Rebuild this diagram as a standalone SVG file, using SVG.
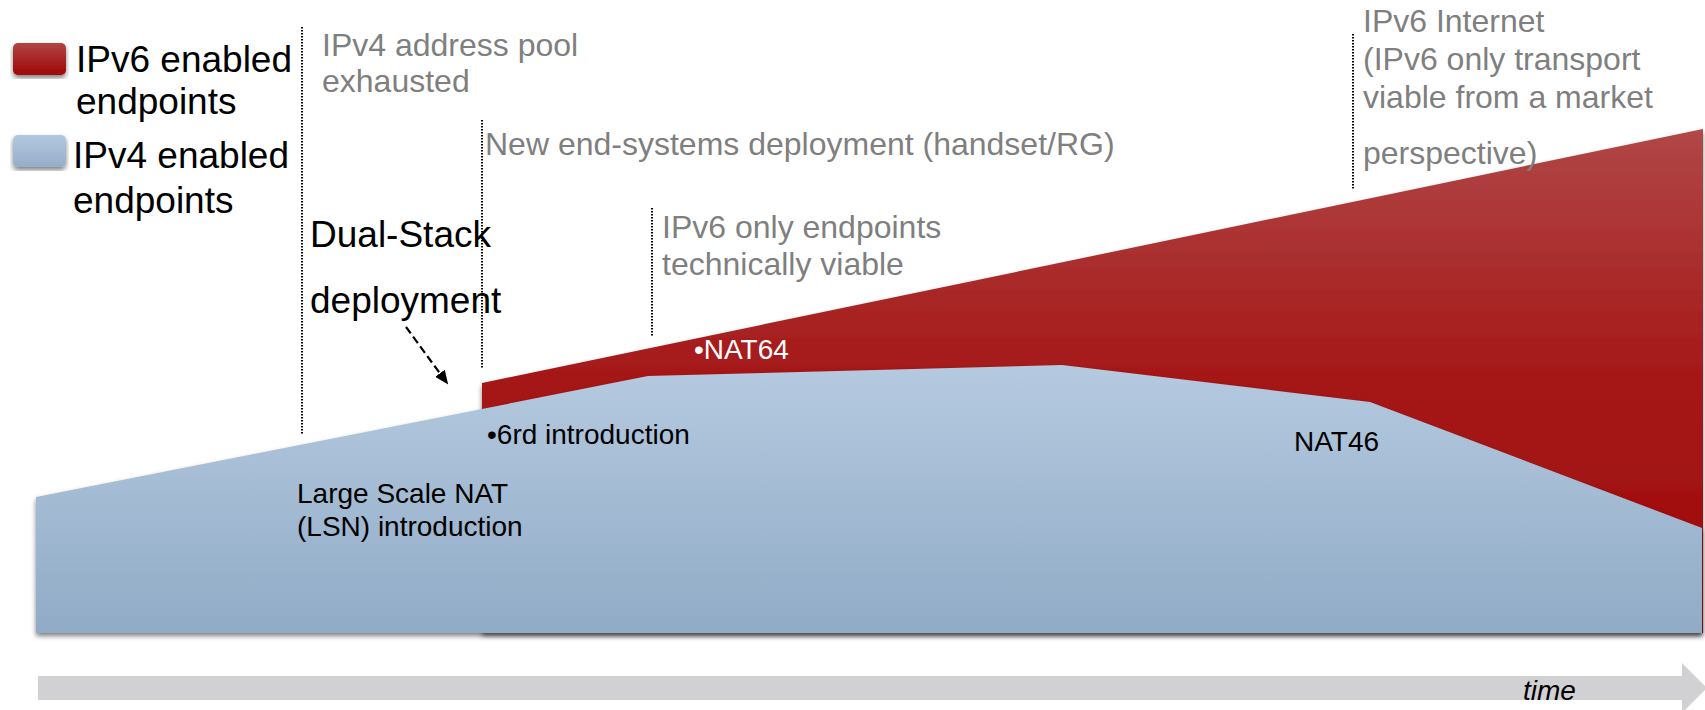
<svg xmlns="http://www.w3.org/2000/svg" width="1705" height="710" viewBox="0 0 1705 710">
<style>
.t{font-family:"Liberation Sans",Arial,sans-serif}
.gray{fill:#7f7f7f;font-size:32px}
.blk{fill:#000;font-size:37px}
.sm{fill:#000;font-size:28px}
.dot{stroke:#000;stroke-width:2;stroke-dasharray:1.6 1.4;fill:none}
</style>
<defs>
<linearGradient id="gRed" x1="0" y1="0" x2="0" y2="1" gradientUnits="objectBoundingBox">
<stop offset="0" stop-color="#b14747"/>
<stop offset="0.5" stop-color="#a51717"/>
<stop offset="1" stop-color="#a00a0a"/>
</linearGradient>
<linearGradient id="gBlue" x1="0" y1="0" x2="0" y2="1">
<stop offset="0" stop-color="#b5cae0"/>
<stop offset="1" stop-color="#91abc6"/>
</linearGradient>
<linearGradient id="gRedL" x1="0" y1="0" x2="0" y2="1">
<stop offset="0" stop-color="#b04545"/>
<stop offset="1" stop-color="#9f0606"/>
</linearGradient>
<linearGradient id="gBlueL" x1="0" y1="0" x2="0" y2="1">
<stop offset="0" stop-color="#b3c8de"/>
<stop offset="1" stop-color="#95aec9"/>
</linearGradient>
<filter id="sh" x="-5%" y="-5%" width="110%" height="115%">
<feDropShadow dx="0" dy="3" stdDeviation="2.5" flood-color="#000" flood-opacity="0.5"/>
</filter>
<marker id="ah" markerWidth="14" markerHeight="14" refX="12" refY="6" orient="auto" markerUnits="userSpaceOnUse" viewBox="0 0 14 12">
<path d="M0,0 L14,6 L0,12 Z" fill="#000"/>
</marker>
</defs>

<g id="time-axis">
<polygon points="38,676 1682,676 1682,663 1707,688 1682,713 1682,700 38,700" fill="#d1d1d4"/>
<text class="t" x="1523" y="700" font-size="28" font-style="italic" fill="#000">time</text>
</g>

<g id="ipv6-area">
<polygon points="482,383 1703,129 1703,633 482,633" fill="url(#gRed)" filter="url(#sh)"/>
</g>
<g id="ipv4-area">
<polygon points="36,497 482,409 648,376 1062,365 1370,402 1702,528 1702,633 36,633" fill="url(#gBlue)" filter="url(#sh)"/>
</g>

<g id="legend">
<g id="legend-ipv6">
<rect x="13" y="43" width="53" height="32" rx="5" fill="url(#gRedL)" filter="url(#sh)"/>
<text class="t blk" x="76" y="72">IPv6 enabled</text>
<text class="t blk" x="76" y="114">endpoints</text>
</g>
<g id="legend-ipv4">
<rect x="13" y="135" width="53" height="32" rx="5" fill="url(#gBlueL)" filter="url(#sh)"/>
<text class="t blk" x="73" y="168">IPv4 enabled</text>
<text class="t blk" x="73" y="213">endpoints</text>
</g>
</g>

<g id="connectors">
<line class="dot" x1="302" y1="27" x2="302" y2="435"/>
<line class="dot" x1="482" y1="120" x2="482" y2="369"/>
<line class="dot" x1="652" y1="208" x2="652" y2="337"/>
<line class="dot" x1="1353" y1="34" x2="1353" y2="189"/>
<line x1="406" y1="327" x2="447" y2="383" stroke="#000" stroke-width="2.2" stroke-dasharray="8 4" marker-end="url(#ah)"/>
</g>

<g id="milestone-ipv4-exhausted">
<text class="t gray" x="322" y="56">IPv4 address pool</text>
<text class="t gray" x="322" y="92">exhausted</text>
</g>
<g id="milestone-new-end-systems">
<text class="t gray" x="485" y="155">New end-systems deployment (handset/RG)</text>
</g>
<g id="milestone-ipv6-only">
<text class="t gray" x="662" y="238">IPv6 only endpoints</text>
<text class="t gray" x="662" y="275">technically viable</text>
</g>
<g id="milestone-ipv6-internet">
<text class="t gray" x="1363" y="32">IPv6 Internet</text>
<text class="t gray" x="1363" y="70">(IPv6 only transport</text>
<text class="t gray" x="1363" y="108">viable from a market</text>
<text class="t gray" x="1363" y="164">perspective)</text>
</g>

<g id="dual-stack">
<text class="t blk" x="310" y="247">Dual-Stack</text>
<text class="t blk" x="310" y="313">deployment</text>
</g>
<g id="label-6rd">
<text class="t sm" x="487" y="444">•6rd introduction</text>
</g>
<g id="label-nat64">
<text class="t sm" x="694" y="359" style="fill:#fff">•NAT64</text>
</g>
<g id="label-nat46">
<text class="t sm" x="1294" y="451">NAT46</text>
</g>
<g id="label-lsn">
<text class="t sm" x="297" y="503">Large Scale NAT</text>
<text class="t sm" x="297" y="536">(LSN) introduction</text>
</g>
</svg>
